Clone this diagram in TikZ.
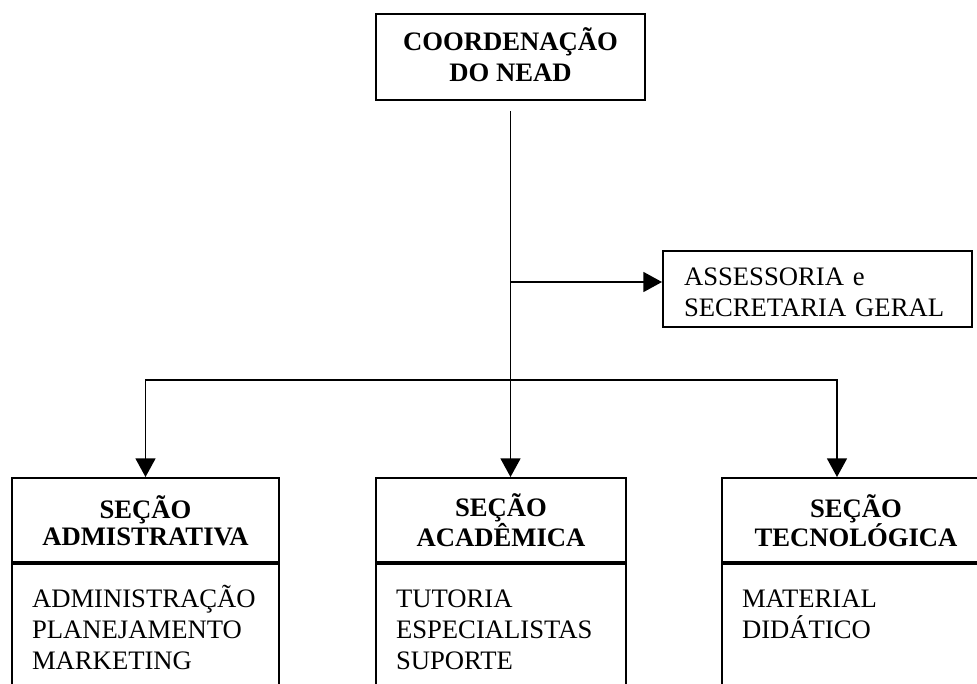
\documentclass[tikz,border=0pt]{standalone}
\usepackage{fontspec}
\setmainfont{Liberation Serif}
\usetikzlibrary{arrows.meta,calc}
\begin{document}
\begin{tikzpicture}[x=0.75pt,y=-0.75pt,
  box/.style={draw=black,line width=1.5pt,rectangle,inner sep=0pt},
  conn/.style={draw=black,line width=1.2pt},
  arr/.style={conn,-{Triangle[length=14pt,width=15pt]}},
  headbox/.style={box,anchor=north,minimum height=63pt,align=center,
    font=\fontsize{20}{20.25}\selectfont\bfseries},
  bodybox/.style={box,anchor=north,align=left,inner xsep=15pt,inner ysep=14.25pt,
    font=\fontsize{20}{23.25}\selectfont},
]
\useasboundingbox (0,0) rectangle (977,683);
\clip (0,0) rectangle (977,683);

% top box
\node[box,minimum width=201.75pt,minimum height=64.5pt,align=center,
  font=\fontsize{20}{23.25}\selectfont\bfseries] (coord) at (510.5,57)
  {\rule{0pt}{18pt}COORDENAÇÃO\\DO NEAD\rule[-5.25pt]{0pt}{5.25pt}};

% side box
\node[box,minimum width=231.75pt,minimum height=57pt,text width=200.25pt,
  inner xsep=15.75pt,align=left,font=\fontsize{20}{23.25}\selectfont] (ass) at (817.5,289)
  {\rule{0pt}{18pt}ASSESSORIA e\\SECRETARIA GERAL};

% section boxes
\node[headbox,minimum width=200.25pt] (h1) at (145.5,477)
  {\rule{0pt}{18pt}SEÇÃO\\ADMISTRATIVA};
\node[bodybox,text width=170.25pt] (b1) at (h1.south)
  {\rule{0pt}{18pt}ADMINISTRAÇÃO\\PLANEJAMENTO\\MARKETING\rule[-60pt]{0pt}{60pt}};

\node[headbox,minimum width=187.5pt] (h2) at (501,477)
  {\rule{0pt}{18pt}SEÇÃO\\ACADÊMICA};
\node[bodybox,text width=157.5pt] (b2) at (h2.south)
  {\rule{0pt}{18pt}TUTORIA\\ESPECIALISTAS\\SUPORTE\rule[-60pt]{0pt}{60pt}};

\node[headbox,minimum width=201pt] (h3) at (856,477)
  {\rule{0pt}{18pt}SEÇÃO\\TECNOLÓGICA};
\node[bodybox,text width=171pt] (b3) at (h3.south)
  {\rule{0pt}{18pt}MATERIAL\\DIDÁTICO\rule[-80pt]{0pt}{80pt}};

% connectors
\coordinate (s0) at ([yshift=-7.5pt]coord.south);
\path (s0) ++(0,269) coordinate (jn);
\draw[arr] (s0) -- (s0 |- h2.north);
\draw[arr] ([yshift=5.25pt]ass.west -| s0) -- ([yshift=5.25pt]ass.west);
\draw[arr] (jn) -| (h1.north);
\draw[arr] (jn) -| ([xshift=-14.25pt]h3.north);
\end{tikzpicture}
\end{document}
